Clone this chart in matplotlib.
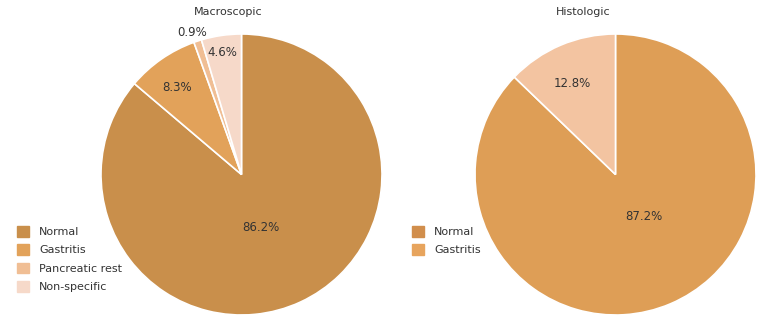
import numpy as np
import matplotlib.pyplot as plt
from matplotlib.patches import Patch

macro_labels = ['Normal', 'Gastritis', 'Pancreatic rest', 'Non-specific']
macro_vals = [86.2, 8.3, 0.9, 4.6]
macro_colors = ['#C98F4B', '#E2A25A', '#F0BE94', '#F6D9C9']

histo_labels = ['Normal', 'Gastritis']
histo_vals = [87.2, 12.8]
histo_colors = ['#DE9E56', '#F3C4A1']
histo_legend_colors = ['#D18E4C', '#E7A45D']

txt = '#333333'
plt.rcParams['font.family'] = ['DejaVu Sans']

fig = plt.figure(figsize=(7.7, 3.28), dpi=100)

ax1 = fig.add_axes([101/770, 13/328, 281/770, 281/328])
ax2 = fig.add_axes([475/770, 13/328, 281/770, 281/328])

w1, _ = ax1.pie(macro_vals, colors=macro_colors, startangle=90, counterclock=False,
                wedgeprops=dict(edgecolor='white', linewidth=1.2))
w2, _ = ax2.pie(histo_vals, colors=histo_colors, startangle=90, counterclock=False,
                wedgeprops=dict(edgecolor='white', linewidth=1.2))

# label spots (in pie radius units)
macro_pos = [(0.135, -0.376), (-0.46, 0.62), (-0.35, 1.01), (-0.135, 0.865)]
histo_pos = [(0.20, -0.30), (-0.31, 0.65)]
for v, p in zip(macro_vals, macro_pos):
    ax1.text(p[0], p[1], '%.1f%%' % v, ha='center', va='center', fontsize=8.5, color=txt)
for v, p in zip(histo_vals, histo_pos):
    ax2.text(p[0], p[1], '%.1f%%' % v, ha='center', va='center', fontsize=8.5, color=txt)

for ax in (ax1, ax2):
    ax.set_xlim(-1, 1)
    ax.set_ylim(-1, 1)
    ax.set_aspect('equal')
    ax.axis('off')

fig.text(228/770, 1 - 12/328, 'Macroscopic', ha='center', va='center', fontsize=8, color=txt)
fig.text(583/770, 1 - 12/328, 'Histologic', ha='center', va='center', fontsize=8, color=txt)

leg_kw = dict(loc='upper left', frameon=False, fontsize=8, labelcolor=txt,
              handlelength=1.1, handleheight=1.1, labelspacing=0.65,
              handletextpad=0.9, borderaxespad=0, borderpad=0)
fig.legend(handles=[Patch(color=c) for c in macro_colors], labels=macro_labels,
           bbox_to_anchor=(17/770, 1 - 226/328), **leg_kw)
fig.legend(handles=[Patch(color=c) for c in histo_legend_colors], labels=histo_labels,
           bbox_to_anchor=(412/770, 1 - 226/328), **leg_kw)

fig.savefig('out.png', dpi=100)
